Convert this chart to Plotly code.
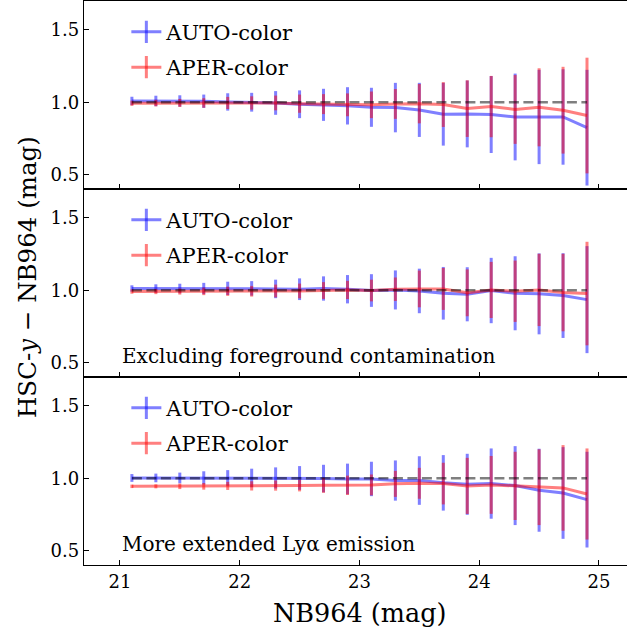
import plotly.graph_objects as go
from plotly.subplots import make_subplots

# ---------------- data ----------------
nb964 = [21.1, 21.3, 21.5, 21.7, 21.9, 22.1, 22.3, 22.5, 22.7, 22.9,
         23.1, 23.3, 23.5, 23.7, 23.9, 24.1, 24.3, 24.5, 24.7, 24.9]

auto1 = [1.009, 1.009, 1.009, 1.007, 1.002, 1.000, 0.995, 0.986, 0.982, 0.975,
         0.965, 0.963, 0.947, 0.917, 0.919, 0.915, 0.898, 0.898, 0.898, 0.824]
auto1_err = [0.029, 0.036, 0.039, 0.046, 0.060, 0.065, 0.082, 0.096, 0.111, 0.129,
             0.135, 0.171, 0.187, 0.217, 0.231, 0.266, 0.300, 0.326, 0.330, 0.400]
aper1 = [0.993, 0.994, 0.995, 0.995, 0.995, 0.995, 0.995, 0.990, 0.987, 0.982,
         0.982, 0.988, 0.990, 0.984, 0.956, 0.970, 0.950, 0.965, 0.945, 0.908]
aper1_err = [0.018, 0.023, 0.028, 0.033, 0.042, 0.046, 0.051, 0.063, 0.069, 0.079,
             0.092, 0.103, 0.136, 0.155, 0.196, 0.212, 0.238, 0.270, 0.300, 0.400]

auto2 = [1.012, 1.012, 1.012, 1.012, 1.013, 1.013, 1.009, 1.007, 1.012, 1.007,
         0.998, 1.002, 0.995, 0.979, 0.972, 0.998, 0.979, 0.975, 0.963, 0.935]
auto2_err = [0.022, 0.029, 0.033, 0.039, 0.046, 0.050, 0.064, 0.075, 0.084, 0.098,
             0.113, 0.135, 0.154, 0.182, 0.187, 0.226, 0.256, 0.280, 0.293, 0.370]
aper2 = [0.991, 0.991, 0.991, 0.992, 0.993, 0.993, 0.995, 0.995, 0.998, 1.002,
         0.998, 1.007, 1.009, 1.009, 0.982, 1.002, 0.993, 1.002, 0.984, 0.977]
aper2_err = [0.015, 0.018, 0.021, 0.026, 0.032, 0.037, 0.044, 0.051, 0.058, 0.063,
             0.075, 0.081, 0.127, 0.145, 0.162, 0.194, 0.212, 0.250, 0.268, 0.358]

auto3 = [1.002, 1.002, 1.002, 1.002, 1.002, 1.002, 1.002, 1.002, 0.998, 0.995,
         0.995, 0.984, 0.984, 0.968, 0.958, 0.963, 0.949, 0.917, 0.898, 0.852]
auto3_err = [0.027, 0.030, 0.037, 0.046, 0.054, 0.064, 0.073, 0.082, 0.095, 0.106,
             0.119, 0.139, 0.168, 0.192, 0.211, 0.243, 0.273, 0.287, 0.317, 0.331]
aper3 = [0.944, 0.944, 0.944, 0.944, 0.947, 0.947, 0.949, 0.949, 0.951, 0.951,
         0.954, 0.961, 0.965, 0.963, 0.947, 0.954, 0.947, 0.938, 0.933, 0.891]
aper3_err = [0.012, 0.014, 0.019, 0.023, 0.028, 0.032, 0.035, 0.040, 0.052, 0.067,
             0.072, 0.090, 0.107, 0.144, 0.194, 0.200, 0.236, 0.262, 0.296, 0.315]

ref_level = [1.0, 1.0]
ref_x = [nb964[0], nb964[-1]]

panels = [
    (auto1, auto1_err, aper1, aper1_err, None),
    (auto2, auto2_err, aper2, aper2_err, "Excluding foreground contamination"),
    (auto3, auto3_err, aper3, aper3_err, "More extended Ly\u03b1 emission"),
]
series_names = ["AUTO-color", "APER-color"]
yticks = [0.5, 1.0, 1.5]
xticks = [21, 22, 23, 24, 25]

# ---------------- style ----------------
BLUE = "rgba(0,0,255,0.5)"
RED = "rgba(255,0,0,0.5)"
GRAY = "rgba(0,0,0,0.5)"
FONT = "'DejaVu Serif', 'Liberation Serif', serif"

fig = make_subplots(rows=3, cols=1, shared_xaxes=True, vertical_spacing=0)

legend_ids = ["legend", "legend2", "legend3"]
for i, (a, ae, p, pe, label) in enumerate(panels):
    row = i + 1
    for vals, errs, col in [(a, ae, BLUE), (p, pe, RED)]:
        fig.add_trace(go.Scatter(
            x=nb964, y=vals, mode="lines",
            line=dict(color=col, width=3),
            error_y=dict(type="data", array=errs, color=col, thickness=3, width=0),
            showlegend=False, hoverinfo="skip"), row=row, col=1)
    fig.add_trace(go.Scatter(
        x=ref_x, y=ref_level, mode="lines",
        line=dict(color=GRAY, width=2.7, dash="10px,4.5px"),
        showlegend=False, hoverinfo="skip"), row=row, col=1)
    for name, col in zip(series_names, [BLUE, RED]):
        fig.add_trace(go.Scatter(
            x=[None], y=[None], mode="lines+markers", name=name,
            line=dict(color=col, width=3),
            marker=dict(symbol="line-ns-open", size=16, color=col,
                        line=dict(width=3, color=col)),
            legend=legend_ids[i], legendgroup=f"{name}{row}",
            showlegend=True), row=row, col=1)
    if label:
        fig.add_annotation(x=21.0, y=0.545, xref=f"x{row}", yref=f"y{row}",
                           text=label, showarrow=False, xanchor="left",
                           yanchor="middle",
                           font=dict(family=FONT, size=20, color="black"))

axis_common = dict(showline=True, linecolor="black", linewidth=1.3,
                   ticks="inside", ticklen=5, tickwidth=1.2, tickcolor="black",
                   showgrid=False, zeroline=False,
                   tickfont=dict(family=FONT, size=18, color="black"))

for row in range(1, 4):
    fig.update_xaxes(range=[20.7, 25.234], tickvals=xticks, mirror=True,
                     **axis_common, row=row, col=1)
    fig.update_yaxes(range=[0.4, 1.7], tickvals=yticks, tickformat=".1f",
                     mirror=False, **axis_common, row=row, col=1)
fig.update_xaxes(showticklabels=False, row=1, col=1)
fig.update_xaxes(showticklabels=False, row=2, col=1)
fig.update_xaxes(showticklabels=True, row=3, col=1)

fig.add_annotation(x=(359 - 84) / 543, y=-0.085, xref="paper", yref="paper",
                   text="NB964 (mag)", showarrow=False, xanchor="center",
                   yanchor="middle", font=dict(family=FONT, size=25.5, color="black"))
fig.add_annotation(x=(27 - 84) / 543, y=(565 - 277) / 564, xref="paper", yref="paper",
                   text="HSC-<i>y</i> \u2212 NB964 (mag)", showarrow=False,
                   textangle=-90, xanchor="center", yanchor="middle",
                   font=dict(family=FONT, size=24.5, color="black"))

leg_common = dict(x=0.078, xanchor="left", yanchor="top",
                  bgcolor="rgba(0,0,0,0)", borderwidth=0,
                  font=dict(family=FONT, size=21, color="black"),
                  itemsizing="trace", traceorder="grouped", tracegroupgap=5)
fig.update_layout(
    width=627, height=633,
    margin=dict(l=84, r=0, t=1, b=68),
    paper_bgcolor="white", plot_bgcolor="white",
    legend=dict(y=0.981, **leg_common),
    legend2=dict(y=0.981 - 1 / 3, **leg_common),
    legend3=dict(y=0.981 - 2 / 3, **leg_common),
)

fig.write_html("out.html")
